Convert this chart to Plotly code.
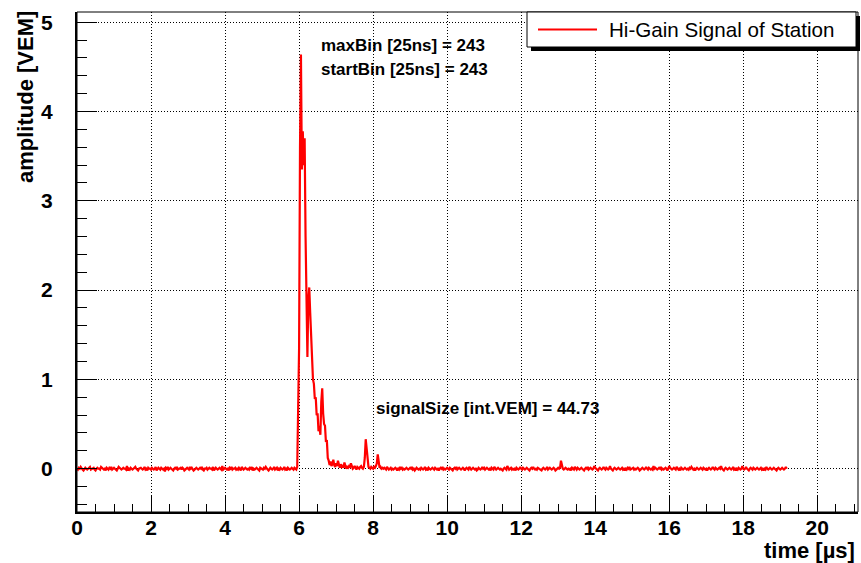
import plotly.graph_objects as go

# ---------------- data ----------------
BIN_WIDTH_US = 0.025  # 25 ns per FADC bin

# baseline noise, one character per bin, in hundredths of a VEM
NOISE_CODE = {'a': -3, 'b': -2, 'c': -1, 'd': 0, 'e': 1, 'f': 2, 'g': 3,
              'h': 5, 'i': 7, 'j': 9}

pre_noise = (  # bins 0 - 237
    "dcedfdcbde" "dcdefcddec" "bdeddcfedc" "dbedcedfcd" "edcbdfedcd"
    "eddcgbdced" "cdefdcbdee" "dcdfcdbedd" "cedcdfbded" "cedcdaedfc"
    "dedcbdedfc" "ddecedbcde" "dcfdedbcde" "dcdedfcbdd" "ecdeddcfbd"
    "edcdedcgcd" "edcdbedfcd" "decdcedbfd" "cdedcdcedf" "bdcdedcbed"
    "dcedfdcbde" "dcdfcdebdc" "edcdfcdbed" "cdedcedc"
)

pulse_values = [  # bins 238 - 330, VEM
    0.02, 1.05, 1.35, 3.60, 4.64, 3.35, 3.78, 3.40, 3.70, 2.60,
    1.60, 1.25, 1.90, 2.03, 1.75, 1.45, 1.20, 1.00, 0.95, 0.78,
    0.80, 0.60, 0.62, 0.42, 0.48, 0.38, 0.75, 0.90, 0.62, 0.50,
    0.48, 0.30, 0.32,
    0.12, 0.09, 0.04, 0.08, 0.03, 0.05, 0.10, 0.04, 0.02, 0.06,
    0.03, 0.09, 0.04, 0.01, 0.05, 0.02, 0.03, 0.01, 0.07, 0.03,
    0.00, 0.02, 0.01, 0.03, 0.02, 0.06, 0.02, 0.00, 0.01, 0.03,
    0.01, -0.01, 0.02, 0.01, 0.00, 0.02, 0.03, 0.01, 0.00, 0.02,
    0.12, 0.33, 0.22, 0.05, 0.02, 0.01, 0.00, 0.02, 0.01, 0.00,
    0.02, 0.01, 0.03, 0.06, 0.16, 0.04, 0.01, 0.02, 0.00, 0.01,
]

post_noise = (  # bins 331 - 767
    "dedcfdcdec" "dcdedbdcfd" "ecdcdedcde" "dfcdbdedcd" "cedcdfcdbe"
    "dcdedcedcd" "bdedfcdcde" "dcedcbdedf" "cdedcdedbd" "edcfdcdedc"
    "dbcedcdfde" "cdedcdbedc" "fdcdedcdcb" "dedcgdcdec" "dcdbedcdfd"
    "cedcdedcbd" "edfdcdcedd" "cbdedcdfcd" "edcdedbcde" "dejfdcdedc"
    "dcdbedcfdc" "edcdedcbde" "dfcdedcdge" "dcbdedcdfd" "cedcdgdcbd"
    "edcdedcdec" "dbdcedfcdd" "ecdcdedbcd" "edcdfdcedc" "dcgdedcded"
    "fcdcdedbdg" "edcdedcfdc" "dbedcdedcd" "cedfdcdbde" "dcdedcedcd"
    "bdedcdfdce" "dcdedgdcbd" "edcdedcdfc" "dbdcedcdgd" "cdfdcbdedc"
    "edcdedcdec" "dbdcfdcded" "cdedcbdedc" "dedcdfd"
)

trace_name = "Hi-Gain Signal of Station"
max_bin_text = "maxBin [25ns] = 243"
start_bin_text = "startBin [25ns] = 243"
signal_size_text = "signalSize [int.VEM] = 44.73"
x_title = "time [µs]"
y_title = "amplitude [VEM]"
x_ticks = [0, 2, 4, 6, 8, 10, 12, 14, 16, 18, 20]
y_ticks = [0, 1, 2, 3, 4, 5]

amplitudes = ([NOISE_CODE[c] / 100 for c in pre_noise] + pulse_values +
              [NOISE_CODE[c] / 100 for c in post_noise])
times = [i * BIN_WIDTH_US for i in range(len(amplitudes))]

# ---------------- layout helpers ----------------
W, H = 861, 563
ML, MR, MT, MB = 77, 3, 12, 51
PW, PH = W - ML - MR, H - MT - MB
FONT = "Liberation Sans, Arial, Helvetica, sans-serif"


def px(x):
    return (x - ML) / PW


def py(y):
    return (H - MB - y) / PH


fig = go.Figure()
fig.add_trace(go.Scatter(x=times, y=amplitudes, mode="lines",
                         line=dict(color="#ff0000", width=2.2),
                         name=trace_name, showlegend=False))

axis_common = dict(
    showline=True, linecolor="black", linewidth=2, mirror=False,
    ticks="inside", tickcolor="black", tickwidth=1,
    showgrid=True, gridcolor="black", gridwidth=1, griddash="1px,2px",
    zeroline=False,
    tickfont=dict(family=FONT, size=21, color="black", weight="bold"),
)

fig.update_xaxes(range=[0, 21.1], tickvals=x_ticks, ticklen=16,
                 minor=dict(dtick=0.5, ticks="inside", ticklen=8,
                            tickcolor="black", showgrid=False),
                 ticklabelstandoff=-4, **axis_common)
fig.update_yaxes(range=[-0.485, 5.115], tickvals=y_ticks, ticklen=20,
                 minor=dict(dtick=0.2, ticks="inside", ticklen=10,
                            tickcolor="black", showgrid=False),
                 ticklabelstandoff=18, **axis_common)

shapes = [
    # frame
    dict(type="rect", xref="paper", yref="paper", x0=0, x1=1, y0=0, y1=1,
         line=dict(color="black", width=1), layer="above"),
    # legend shadow and box
    dict(type="rect", xref="paper", yref="paper", x0=px(531), x1=px(860),
         y0=py(51), y1=py(16), fillcolor="black",
         line=dict(width=0), layer="above"),
    dict(type="rect", xref="paper", yref="paper", x0=px(527), x1=px(856),
         y0=py(47), y1=py(12), fillcolor="white",
         line=dict(color="black", width=1), layer="above"),
    dict(type="line", xref="paper", yref="paper", x0=px(538), x1=px(597),
         y0=py(29.5), y1=py(29.5), line=dict(color="#ff0000", width=2),
         layer="above"),
]

annotations = [
    dict(text=trace_name, xref="paper", yref="paper", x=px(607), y=py(29.5),
         xanchor="left", yanchor="middle", showarrow=False,
         font=dict(family=FONT, size=20.6, color="black")),
    dict(text="<b>%s</b>" % max_bin_text, xref="paper", yref="paper",
         x=px(319), y=py(46), xanchor="left", yanchor="middle",
         showarrow=False, font=dict(family=FONT, size=17, color="black")),
    dict(text="<b>%s</b>" % start_bin_text, xref="paper", yref="paper",
         x=px(319), y=py(69), xanchor="left", yanchor="middle",
         showarrow=False, font=dict(family=FONT, size=17, color="black")),
    dict(text="<b>%s</b>" % signal_size_text, xref="paper", yref="paper",
         x=px(374), y=py(408), xanchor="left", yanchor="middle",
         showarrow=False, font=dict(family=FONT, size=17, color="black")),
    dict(text="<b>%s</b>" % x_title, xref="paper", yref="paper",
         x=px(857), y=py(550), xanchor="right", yanchor="middle",
         showarrow=False, font=dict(family=FONT, size=22, color="black")),
    dict(text="<b>%s</b>" % y_title, xref="paper", yref="paper",
         x=px(25), y=py(9), xanchor="center", yanchor="top", textangle=-90,
         showarrow=False, font=dict(family=FONT, size=22, color="black")),
]

fig.update_layout(
    width=W, height=H,
    margin=dict(l=ML, r=MR, t=MT, b=MB, pad=0),
    paper_bgcolor="white", plot_bgcolor="white",
    shapes=shapes, annotations=annotations, showlegend=False,
    font=dict(family=FONT, color="black"),
)

fig.write_html("out.html")
